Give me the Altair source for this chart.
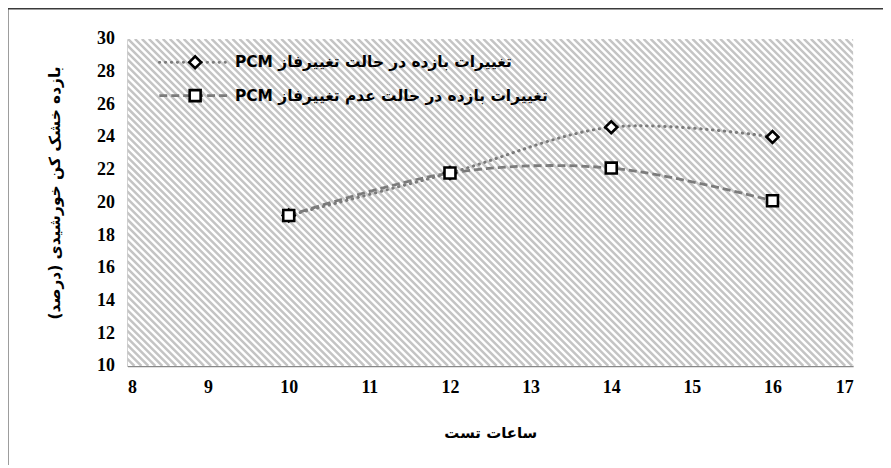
import altair as alt
import pandas as pd
import math

# ---- data ----
hours = [10, 12, 14, 16]
pcm_change = [19.2, 21.8, 24.6, 24.0]        # diamonds, dotted
pcm_no_change = [19.2, 21.8, 22.1, 20.1]     # squares, dashed
legend_labels = [
    "تغییرات بازده در حالت تغییرفاز PCM",
    "تغییرات بازده در حالت عدم تغییرفاز PCM",
]
x_ticks = [8, 9, 10, 11, 12, 13, 14, 15, 16, 17]
y_ticks = [10, 12, 14, 16, 18, 20, 22, 24, 26, 28, 30]
x_title = "ساعات تست"
y_title = "بازده خشک کن خورشیدی (درصد)"

RLE, PDF = "\u202b", "\u202c"

W, H = 729, 328.5
X0, X1, Y0, Y1 = 8, 17, 10, 30
PERSIAN_FONT = "DejaVu Sans"
NUM_FONT = "Liberation Serif, Times New Roman, serif"

df1 = pd.DataFrame({"h": hours, "v": pcm_change})
df2 = pd.DataFrame({"h": hours, "v": pcm_no_change})
one = pd.DataFrame({"a": [0]})

# ---- diagonal hatch pattern of the plot area (45 deg stripes, 7px apart) ----
HSTEP = 7
ux = (X1 - X0) / W   # data units per pixel horizontally
offs = []
p = -H
while p <= W:
    offs.append(p)
    p += HSTEP
hatch_df = pd.DataFrame({
    "hx": [X0 + o * ux for o in offs],
    "hx2": [X0 + (o + H) * ux for o in offs],
    "hy": [Y1] * len(offs),
    "hy2": [Y0] * len(offs),
})

xs = alt.Scale(domain=[X0, X1], nice=False, zero=False)
ys = alt.Scale(domain=[Y0, Y1], nice=False, zero=False)

common_axis = dict(ticks=False, grid=False, domainColor="#898989", domainWidth=1.5,
                   labelFont=NUM_FONT, labelFontSize=18, labelFontWeight="bold",
                   labelColor="black", titleColor="black",
                   titleFont=PERSIAN_FONT, titleFontWeight="bold")

xaxis = alt.Axis(values=x_ticks, title=RLE + x_title + PDF,
                 labelPadding=13, titleX=W / 2, titleY=66.5, titleBaseline="middle",
                 titleFontSize=15, **common_axis)
yaxis = alt.Axis(values=y_ticks, title=RLE + y_title + PDF,
                 labelPadding=13, titleX=-73, titleY=H / 2 - 10, titleBaseline="middle",
                 titleAlign="center", titleAngle=270, titleFontSize=15.5, **common_axis)

bg = alt.Chart(one).mark_rect(fill="white").encode(
    x=alt.datum(X0, scale=xs, axis=xaxis, type="quantitative"),
    x2=alt.datum(X1),
    y=alt.datum(Y0, scale=ys, axis=yaxis, type="quantitative"),
    y2=alt.datum(Y1),
)

hatch = alt.Chart(hatch_df).mark_rule(color="#c4c4c4", strokeWidth=2.5, clip=True).encode(
    x=alt.X("hx:Q", scale=xs, axis=xaxis), x2="hx2:Q",
    y=alt.Y("hy:Q", scale=ys, axis=yaxis), y2="hy2:Q",
)

LINE_COLOR = "#7b7b7b"

def enc(ch):
    return ch.encode(
        x=alt.X("h:Q", scale=xs, axis=xaxis),
        y=alt.Y("v:Q", scale=ys, axis=yaxis),
    )

line1 = enc(alt.Chart(df1).mark_line(interpolate="cardinal", color=LINE_COLOR,
                                     strokeWidth=3, strokeDash=[0.5, 5.5], strokeCap="round"))
line2 = enc(alt.Chart(df2).mark_line(interpolate="cardinal", color=LINE_COLOR,
                                     strokeWidth=2.8, strokeDash=[8, 4]))
pts1 = enc(alt.Chart(df1).mark_point(shape="diamond", size=144, filled=True, fill="white",
                                     stroke="black", strokeWidth=2.6, opacity=1))
pts2 = enc(alt.Chart(df2).mark_point(shape="square", size=121, filled=True, fill="white",
                                     stroke="black", strokeWidth=2.6, opacity=1))

# ---- legend (inside top-left of the plot) ----
leg = []
rows = [23.5, 57]
dashes = [[0.5, 5.5], [8, 4]]
shapes = ["diamond", "square"]
sizes = [144, 121]
for i in range(2):
    ry = rows[i]
    leg.append(alt.Chart(one).mark_rule(color=LINE_COLOR, strokeWidth=2.8, strokeDash=dashes[i],
                                        strokeCap="round" if i == 0 else "butt").encode(
        x=alt.value(32), x2=alt.value(103), y=alt.value(ry)))
    leg.append(alt.Chart(one).mark_point(shape=shapes[i], size=sizes[i], filled=True, fill="white",
                                         stroke="black", strokeWidth=2.6, opacity=1).encode(
        x=alt.value(68), y=alt.value(ry)))
    leg.append(alt.Chart(one).mark_text(align="left", baseline="middle", font=PERSIAN_FONT,
                                        fontWeight="bold", fontSize=15.5, color="black").encode(
        x=alt.value(108), y=alt.value(ry), text=alt.value(RLE + legend_labels[i] + PDF)))

# ---- outer frame (left and top only) ----
frame_l = alt.Chart(one).mark_rule(color="#3a3a3a", strokeWidth=2).encode(
    x=alt.value(-120.5), y=alt.value(-30.5), y2=alt.value(440))
frame_t = alt.Chart(one).mark_rule(color="#3a3a3a", strokeWidth=2).encode(
    x=alt.value(-121.5), x2=alt.value(770), y=alt.value(-30.5))

chart = alt.layer(bg, hatch, line1, line2, pts1, pts2, *leg, frame_l, frame_t).properties(
    width=W, height=H,
    autosize=alt.AutoSizeParams(type="none"),
    padding={"left": 120, "top": 30, "right": 30, "bottom": 98},
).configure_view(strokeWidth=0)

chart.save("out.html", embed_options={"renderer": "svg", "actions": False})
